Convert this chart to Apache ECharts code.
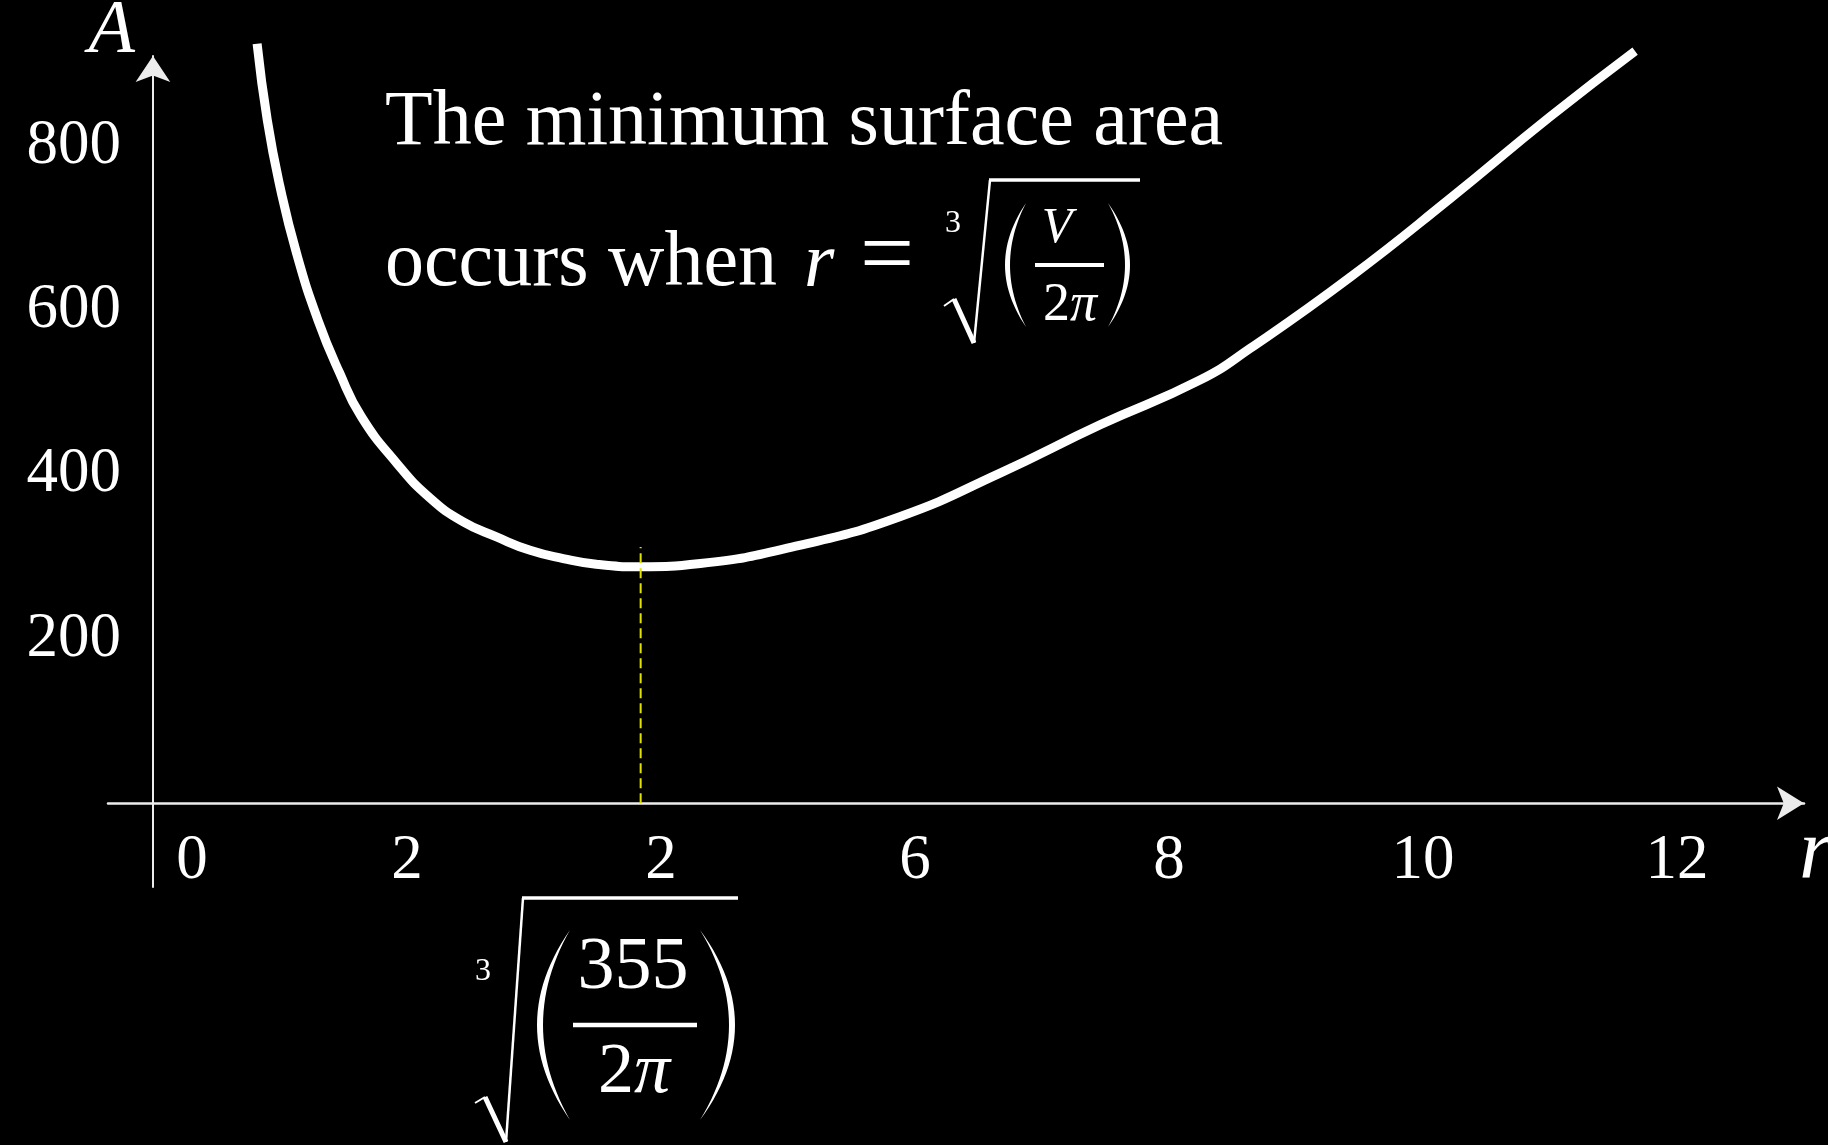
<!DOCTYPE html>
<html>
<head>
<meta charset="utf-8">
<title>Minimum surface area of a cylinder</title>
<style>
  html, body { margin: 0; padding: 0; background: #000; }
  #chart { width: 1828px; height: 1145px; }
</style>
<script src="https://cdn.jsdelivr.net/npm/echarts@6/dist/echarts.min.js"></script>
</head>
<body>
<div id="chart"></div>
<script>
// Surface area A of a closed cylinder against its radius r (fixed volume)
const radius = [0.82, 0.90, 1.00, 1.13, 1.30, 1.47, 1.64, 1.92, 2.18, 2.44, 2.71, 2.97, 3.23,
                3.49, 3.84, 4.31, 5.09, 5.88, 6.67, 7.46, 8.24, 8.64, 9.43, 10.21, 11.00, 11.67];
const area = [925, 832, 751, 670, 588, 524, 471, 414, 372, 343, 324, 308, 298,
              291, 288, 292, 314, 349, 402, 461, 515, 554, 641, 736, 836, 916];

// Axis ticks and their printed labels
const xTickValues = [0, 2, 4, 6, 8, 10, 12];
const xTickLabels = ['0', '2', '2', '6', '8', '10', '12'];
const yTickValues = [200, 400, 600, 800];
const yTickLabels = ['200', '400', '600', '800'];

// Radius of the minimum and the top of its marker line
const minRadius = 3.84;
const markerTop = 312;
const volume = 355;

const SERIF = '"Liberation Serif", "DejaVu Serif", serif';
const WHITE = '#ffffff';
const AXIS = '#ececec';

// Tall, thin bracket drawn as a crescent (outer and inner quadratic curves)
function bracket(x, yTop, yBottom, outer, thick) {
  const dir = Math.sign(outer - x);
  const inner = outer - dir * thick;
  const pts = [];
  const n = 28;
  const curve = (bx, t) => {
    const cx = 2 * bx - x;
    const u = 1 - t;
    return [u * u * x + 2 * u * t * cx + t * t * x,
            u * u * yTop + 2 * u * t * ((yTop + yBottom) / 2) + t * t * yBottom];
  };
  for (let i = 0; i <= n; i++) pts.push(curve(outer, i / n));
  for (let i = n; i >= 0; i--) pts.push(curve(inner, i / n));
  return { type: 'polygon', silent: true, shape: { points: pts }, style: { fill: WHITE } };
}

function seg(x1, y1, x2, y2, w) {
  return { type: 'line', silent: true, shape: { x1, y1, x2, y2 },
           style: { stroke: WHITE, lineWidth: w, lineCap: 'butt' } };
}

function txt(x, y, text, font, align) {
  return { type: 'text', silent: true, x, y,
           style: { text, font, fill: WHITE, align: align || 'center', verticalAlign: 'middle',
                    textAlign: align || 'center', textVerticalAlign: 'middle' } };
}

// "2π" with an italic pi
function twoPi(x, y, size) {
  return { type: 'text', silent: true, x, y,
           style: { text: '{n|2}{p|π}', fill: WHITE, align: 'center', verticalAlign: 'middle',
                    textAlign: 'center', textVerticalAlign: 'middle',
                    rich: {
                      n: { fontFamily: SERIF, fontSize: size, fill: WHITE, color: WHITE },
                      p: { fontFamily: SERIF, fontSize: size, fontStyle: 'italic', fill: WHITE, color: WHITE }
                    } } };
}

// Cube root sign: hook, heavy down-stroke, light up-stroke and the vinculum
function radical(p) {
  return [
    seg(p[0][0], p[0][1], p[1][0], p[1][1], 2),
    seg(p[1][0], p[1][1], p[2][0], p[2][1], 5),
    seg(p[2][0], p[2][1], p[3][0], p[3][1], 2.5),
    seg(p[3][0] - 1, p[3][1], p[4][0], p[4][1], 3.5)
  ];
}

const graphics = [
  txt(385, 124, 'The minimum surface area', '78px ' + SERIF, 'left'),
  txt(385, 265, 'occurs when', '78px ' + SERIF, 'left'),
  txt(804, 265, 'r', 'italic 78px ' + SERIF, 'left'),
  txt(887, 260, '=', '96px ' + SERIF, 'center'),
  // r = cube root of (V / 2π)
  txt(953, 224, '3', '32px ' + SERIF),
  ...radical([[944, 306], [954, 299], [974, 343], [990, 180], [1140, 180]]),
  bracket(1026, 203, 327, 1005, 5),
  bracket(1108, 203, 327, 1130, 5),
  txt(1057, 229, 'V', 'italic 50px ' + SERIF),
  seg(1035, 265, 1104, 265, 4),
  twoPi(1070, 306, 54),
  // value of the minimising radius under the axis
  txt(483, 972, '3', '32px ' + SERIF),
  ...radical([[475, 1103], [485, 1097], [506, 1142], [523, 898], [738, 898]]),
  bracket(570, 930, 1120, 537, 6),
  bracket(700, 930, 1120, 735, 6),
  txt(633, 969, String(volume), '74px ' + SERIF),
  seg(573, 1025, 697, 1025, 4.5),
  twoPi(634, 1073, 72),
  // horizontal axis title
  txt(1799, 855, 'r', 'italic 86px ' + SERIF, 'left')
];

const chart = echarts.init(document.getElementById('chart'), null, { renderer: 'canvas' });

chart.setOption({
  backgroundColor: '#000000',
  animation: false,
  grid: { left: 108, right: 24, top: 56, bottom: 258, containLabel: false, outerBoundsMode: 'none' },
  xAxis: {
    type: 'value', min: -0.354, max: 13,
    axisLine: { show: true, onZero: true, symbol: ['none', 'arrow'], symbolSize: [25, 27],
                lineStyle: { color: AXIS, width: 2.5 } },
    axisTick: { show: false },
    splitLine: { show: false },
    axisLabel: {
      customValues: xTickValues,
      margin: -57,
      color: WHITE, fontFamily: SERIF, fontSize: 63,
      formatter: (v) => {
        const s = xTickLabels[xTickValues.indexOf(v)];
        return v === 0 ? '{zero|' + s + '}' : s;
      },
      rich: { zero: { padding: [0, 0, 0, 78], color: WHITE, fontFamily: SERIF, fontSize: 63 } }
    }
  },
  yAxis: {
    type: 'value', min: -102, max: 910,
    axisLine: { show: true, onZero: true, symbol: ['none', 'arrow'], symbolSize: [26, 26],
                lineStyle: { color: AXIS, width: 2 } },
    axisTick: { show: false },
    splitLine: { show: false },
    axisLabel: {
      customValues: yTickValues,
      margin: -13,
      color: WHITE, fontFamily: SERIF, fontSize: 63,
      formatter: (v) => yTickLabels[yTickValues.indexOf(v)]
    },
    name: 'A', nameLocation: 'end', nameGap: 24,
    nameTextStyle: { color: WHITE, fontFamily: SERIF, fontStyle: 'italic', fontSize: 76,
                     align: 'right', verticalAlign: 'middle', padding: [0, 18, 0, 0] }
  },
  series: [
    {
      name: 'A(r)', type: 'line', z: 3,
      data: radius.map((r, i) => [r, area[i]]),
      smooth: 0.5, symbol: 'none', clip: false,
      lineStyle: { color: WHITE, width: 9, cap: 'butt' }
    },
    {
      name: 'minimum', type: 'line', z: 4,
      data: [[minRadius, 0], [minRadius, markerTop]],
      symbol: 'none', clip: false,
      lineStyle: { color: '#e2e200', width: 2, type: [10, 5] }
    }
  ],
  graphic: graphics
});
</script>
</body>
</html>
